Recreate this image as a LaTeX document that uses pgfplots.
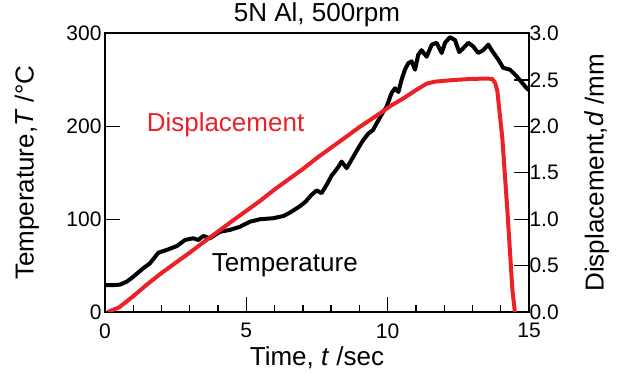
\documentclass[border=0pt]{standalone}
\usepackage{fontspec}
\setmainfont{Liberation Sans}
\usepackage{pgfplots}
\pgfplotsset{compat=1.18}
\definecolor{dred}{RGB}{236,32,38}
\newcommand\tickfont{\fontsize{21bp}{24bp}\selectfont}
\newcommand\labfont{\fontsize{26bp}{30bp}\selectfont}
\pgfplotsset{
 common/.style={width=424bp,height=278.5bp,scale only axis,xmin=0,xmax=15,
   tick align=inside, major tick length=15bp, minor tick length=7bp,
   tick label style={font=\tickfont}, label style={font=\labfont},
   /pgf/number format/assume math mode=true,
   every tick/.style={black, line width=1.3bp},
   axis line style={line width=2bp},
 }
}
\begin{document}
\begin{tikzpicture}
\useasboundingbox (-105bp,-64bp) rectangle (513bp,312bp);
\begin{axis}[common, ymin=0, ymax=300, ytick={0,100,200,300},
  xtick={0,5,10,15}, minor x tick num=4, tick pos=left,
  xticklabel style={yshift=-8bp},
  title={5N Al, 500rpm},
  every axis title shift=0pt,
  title style={font=\labfont, at={(axis description cs:0.5,1.068)}, anchor=center},
  xlabel={Time, \textit{t} /sec},
  xlabel style={at={(axis description cs:0.5,-0.165)}, anchor=center},
  ylabel={Temperature,\textit{T} /°C},
  ylabel style={at={(axis description cs:-0.184,0.5)}, anchor=center}]
\addplot[black, line width=4bp, line join=round] coordinates {
(0,29) (0.3,29) (0.53,29.5) (0.77,32.7) (1.0,38) (1.35,47) (1.59,52.5) (1.89,63.9)
(2.18,66.8) (2.54,71) (2.83,77.6) (3.12,79.4) (3.3,77.6) (3.48,81.9) (3.71,79.4)
(4.07,86.5) (4.42,88.4) (4.78,91.9) (5.13,97.3) (5.48,99.9) (5.95,101) (6.31,103.4)
(6.54,107) (6.9,114) (7.1,119) (7.3,126) (7.49,131) (7.66,128) (7.84,137) (8.02,147)
(8.25,156) (8.37,162) (8.55,155) (8.78,167) (8.95,176) (9.13,185) (9.31,192) (9.48,196)
(9.66,206) (9.85,216) (9.96,221) (10.14,236) (10.26,241) (10.38,237) (10.49,250)
(10.61,261) (10.73,268) (10.85,270) (10.97,261) (11.08,277) (11.2,282) (11.38,275)
(11.56,288) (11.73,290) (11.91,279) (12.03,290) (12.2,296) (12.38,293) (12.53,280)
(12.67,284) (12.85,290) (13.03,286) (13.2,279) (13.38,282) (13.56,288) (13.68,282)
(13.91,272) (14.09,263) (14.33,261) (14.56,254) (14.92,241) (15,239)
};
\node[dred, font=\labfont, anchor=base west, inner sep=0pt] at (axis cs:1.47,194.3) {Displacement};
\node[black, font=\labfont, anchor=base west, inner sep=0pt] at (axis cs:3.77,43.4) {Temperature};
\end{axis}
\begin{axis}[common, ymin=0, ymax=3, ytick={0,0.5,1,1.5,2,2.5,3},
  axis x line=none, axis y line*=right,
  yticklabel style={xshift=-3bp, /pgf/number format/.cd, fixed, fixed zerofill, precision=1},
  ylabel={Displacement,\textit{d} /mm},
  ylabel style={at={(axis description cs:1.16,0.5)}, anchor=center}]
\addplot[dred, line width=4bp, line join=round] coordinates {
(0.1,0) (0.5,0.05) (1.0,0.17) (1.5,0.3) (2.0,0.42) (2.5,0.53) (3.0,0.64) (3.5,0.755)
(4.07,0.883) (4.5,0.98) (5.0,1.09) (5.5,1.2) (6.0,1.32) (6.5,1.43) (7.0,1.54) (7.5,1.66)
(8.0,1.77) (8.5,1.88) (9.02,1.996) (9.73,2.14) (10.1,2.22) (10.55,2.30) (11.0,2.39)
(11.38,2.46) (11.65,2.48) (11.97,2.49) (12.4,2.50) (12.91,2.51) (13.5,2.515) (13.7,2.51)
(13.8,2.47) (13.88,2.38) (14.06,1.86) (14.24,1.07) (14.41,0.25) (14.5,0)
};
\end{axis}
\end{tikzpicture}
\end{document}
